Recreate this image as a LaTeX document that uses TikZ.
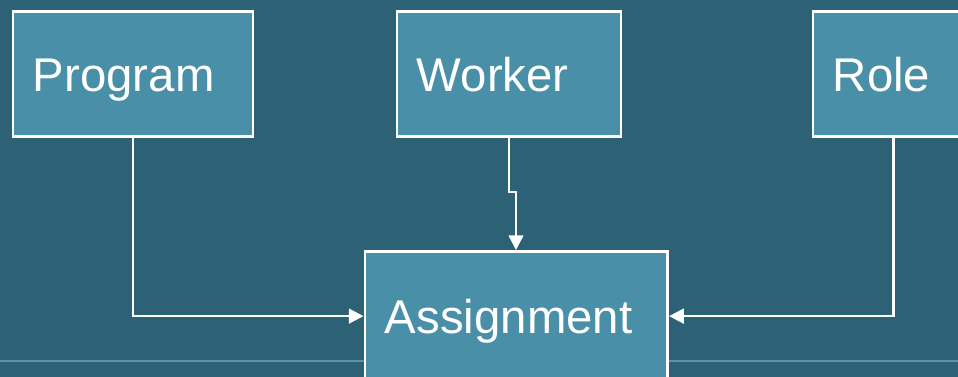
\documentclass[tikz,border=0pt]{standalone}
\usepackage{fontspec}
\setmainfont{Liberation Sans}
\usetikzlibrary{arrows.meta}

\definecolor{bgteal}{HTML}{2D6175}
\definecolor{boxteal}{HTML}{4A8FA8}
\definecolor{rulefaint}{HTML}{5B95A8}

\tikzset{
  entity/.style={draw=white, line width=2.2pt, fill=boxteal, text=white,
    anchor=north west, inner xsep=15pt, inner ysep=0pt, align=left,
    text height=25.5pt, text depth=0pt,
    font=\fontsize{35.5}{40}\selectfont},
  link/.style={draw=white, line width=1.9pt, -{Triangle[length=11pt,width=11pt]}}
}

\begin{document}
\begin{tikzpicture}[x=0.75pt,y=-0.75pt]
\def\ytop{10};
\def\ybot{137};
\def\yrow{314};

\fill[bgteal] (0,0) rectangle (958,377);
\useasboundingbox (0,0) rectangle (958,377);
\clip (0,0) rectangle (958,377);

\draw[rulefaint, line width=0.8pt] (0,361) -- (958,361);

\node[entity, text width=150pt, minimum height=94pt] (prog) at (11.5,\ytop) {Program};
\node[entity, text width=138pt, minimum height=94pt] (work) at (395.5,\ytop) {Worker};
\node[entity, text width=91pt, minimum height=94pt] (role) at (811.5,\ytop) {Role};
\node[entity, text width=197pt, minimum height=97pt] (assign) at (363.5,250) {Assignment};

\coordinate (jog) at (516,192);

\draw[link] (prog.south) |- (assign.west);
\draw[link] (work.south) |- (jog) -- (jog |- assign.north);
\draw[link] (role.south) |- (assign.east);

\end{tikzpicture}
\end{document}
